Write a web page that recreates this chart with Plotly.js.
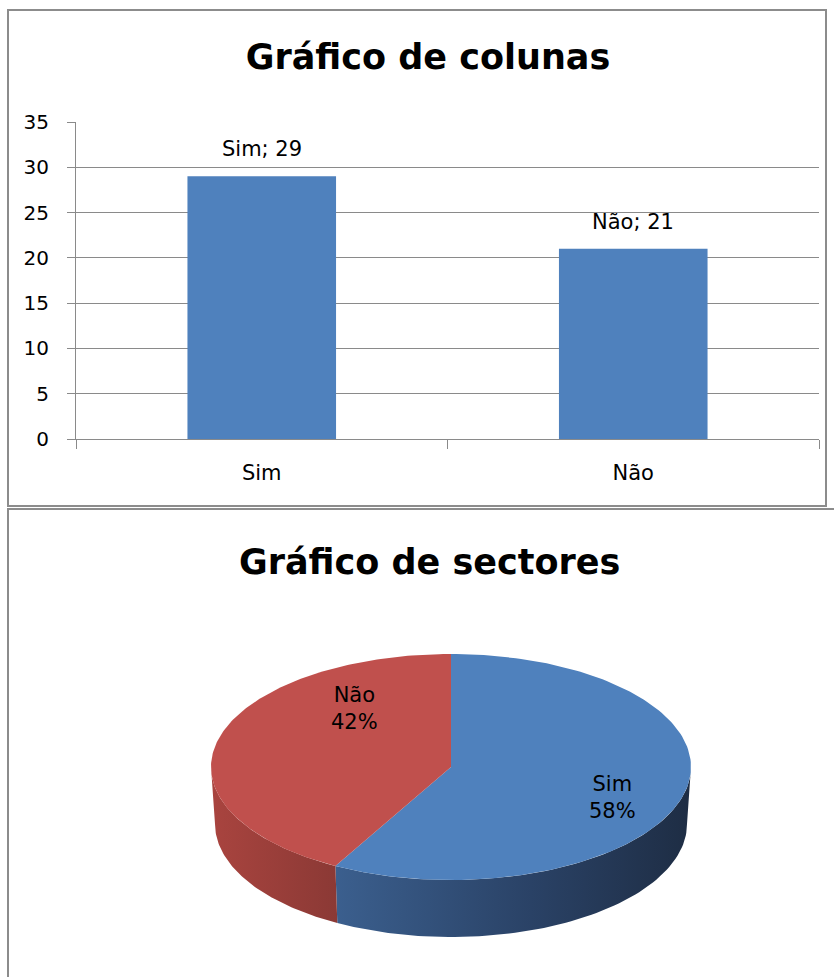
<!DOCTYPE html>
<html>
<head>
<meta charset="utf-8">
<script src="https://cdn.plot.ly/plotly-3.0.1.min.js"></script>
<style>
html,body{margin:0;padding:0;background:#fff;}
#chart{width:834px;height:977px;}
</style>
</head>
<body>
<div id="chart"></div>
<script>
// ---- data ----
const categories = ['Sim', 'Não'];
const counts = [29, 21];
const yTickVals = [0, 5, 10, 15, 20, 25, 30, 35];
const barTitle = 'Gráfico de colunas';
const pieTitle = 'Gráfico de sectores';

// ---- styles ----
const W = 834, H = 977;
const FONT = '"DejaVu Sans", sans-serif';
const BLUE = '#4F81BD', RED = '#C0504D';
const GRID = '#8a8a8a';
const px = v => v / W;
const py = v => 1 - v / H;

// pie geometry (pixel-like units on hidden axes)
const PIE = {cx: 451, cy: 767, rx: 240, ry: 113, rxb: 236, depth: 57};
const sliceColors = [BLUE, RED];
const sideGradients = [
  [[0, '#3b5f8e'], [0.55, '#2a4266'], [1, '#1e2d44']],
  [[0, '#a9443f'], [1, '#8b3935']]
];

const total = counts.reduce((a, b) => a + b, 0);
const fractions = counts.map(c => c / total);

function deg(a){ return a * Math.PI / 180; }
function arc(a0, a1, n, cx, cy, rx, ry){
  const xs = [], ys = [];
  for (let i = 0; i <= n; i++){
    const a = deg(a0 + (a1 - a0) * i / n);
    xs.push(cx + rx * Math.cos(a));
    ys.push(cy - ry * Math.sin(a));
  }
  return {xs, ys};
}

const traces = [];

// bar chart
traces.push({
  type: 'bar', x: categories, y: counts,
  marker: {color: BLUE, line: {width: 0}},
  xaxis: 'x', yaxis: 'y', hoverinfo: 'x+y', showlegend: false
});

// pie slices: first slice starts at 12 o'clock, clockwise
let start = 90;
const slices = fractions.map((f, i) => {
  const a0 = start, a1 = start - f * 360;
  start = a1;
  return {a0, a1, i};
});

// side walls (front visible half: angles between -180 and 0)
slices.forEach(s => {
  const hi = s.a0, lo = s.a1;
  const segs = [];
  for (const off of [0, -360, 360]){
    const h = Math.min(hi + off, 0), l = Math.max(lo + off, -180);
    if (h > l) segs.push([l, h]);
  }
  segs.forEach(([l, h]) => {
    const top = arc(l, h, 80, PIE.cx, PIE.cy, PIE.rx, PIE.ry);
    const bot = arc(h, l, 80, PIE.cx, PIE.cy + PIE.depth, PIE.rxb, PIE.ry);
    traces.push({
      type: 'scatter', mode: 'lines', fill: 'toself',
      x: top.xs.concat(bot.xs), y: top.ys.concat(bot.ys),
      line: {width: 0, color: sliceColors[s.i]},
      fillcolor: sliceColors[s.i],
      fillgradient: {type: 'horizontal', colorscale: sideGradients[s.i]},
      xaxis: 'x2', yaxis: 'y2', hoverinfo: 'skip', showlegend: false
    });
  });
});

// top faces
slices.forEach(s => {
  const a = arc(s.a0, s.a1, 160, PIE.cx, PIE.cy, PIE.rx, PIE.ry);
  traces.push({
    type: 'scatter', mode: 'lines', fill: 'toself',
    x: [PIE.cx].concat(a.xs, [PIE.cx]), y: [PIE.cy].concat(a.ys, [PIE.cy]),
    line: {width: 0, color: sliceColors[s.i]},
    fillcolor: sliceColors[s.i],
    name: categories[s.i],
    text: categories[s.i] + ' ' + Math.round(fractions[s.i] * 100) + '%',
    hoverinfo: 'text', hoveron: 'fills',
    xaxis: 'x2', yaxis: 'y2', showlegend: false
  });
});

// annotations
const annotations = [];
categories.forEach((c, i) => {
  annotations.push({
    x: c, y: counts[i], xref: 'x', yref: 'y',
    text: c + '; ' + counts[i], showarrow: false,
    yanchor: 'bottom', yshift: 13,
    font: {family: FONT, size: 21, color: '#000'}
  });
});
const pieLabelPos = [[612, 797], [354, 708]];
categories.forEach((c, i) => {
  annotations.push({
    x: pieLabelPos[i][0], y: pieLabelPos[i][1], xref: 'x2', yref: 'y2',
    text: c + '<br>' + Math.round(fractions[i] * 100) + '%', showarrow: false,
    font: {family: FONT, size: 21, color: '#000'}
  });
});
annotations.push({
  x: px(429), y: py(562), xref: 'paper', yref: 'paper',
  text: '<b>' + pieTitle + '</b>', showarrow: false,
  xanchor: 'center', yanchor: 'middle',
  font: {family: FONT, size: 35, color: '#000'}
});

const layout = {
  width: W, height: H,
  margin: {l: 0, r: 0, t: 0, b: 0},
  paper_bgcolor: '#fff', plot_bgcolor: 'rgba(0,0,0,0)',
  font: {family: FONT, size: 20, color: '#000'},
  showlegend: false,
  title: {
    text: '<b>' + barTitle + '</b>',
    x: px(428), y: py(57), xref: 'paper', yref: 'paper',
    xanchor: 'center', yanchor: 'middle',
    font: {family: FONT, size: 35, color: '#000'}
  },
  bargap: 0.6,
  xaxis: {
    domain: [px(76), px(819)], anchor: 'y',
    type: 'category', showgrid: false, zeroline: false,
    showline: true, linecolor: GRID, linewidth: 1,
    ticks: 'outside', tickson: 'boundaries', ticklen: 9, tickcolor: GRID,
    ticklabelstandoff: 15,
    tickfont: {family: FONT, size: 21, color: '#000'}, fixedrange: true
  },
  yaxis: {
    domain: [py(439), py(122)], anchor: 'x',
    range: [0, 35], tickvals: yTickVals, ticktext: yTickVals.map(String),
    showgrid: true, gridcolor: GRID, gridwidth: 1, zeroline: false,
    showline: true, linecolor: GRID, linewidth: 1,
    ticks: 'outside', ticklen: 8, tickcolor: GRID,
    ticklabelstandoff: 14,
    tickfont: {family: FONT, size: 20, color: '#000'}, fixedrange: true
  },
  xaxis2: {
    domain: [0, 1], anchor: 'y2', range: [0, W],
    visible: false, fixedrange: true
  },
  yaxis2: {
    domain: [0, py(508)], anchor: 'x2', range: [H, 508],
    visible: false, fixedrange: true
  },
  shapes: [
    {type: 'rect', xref: 'paper', yref: 'paper',
     x0: px(8), x1: px(826), y0: py(506), y1: py(10),
     line: {color: '#8c8c8c', width: 2}, layer: 'below'},
    {type: 'rect', xref: 'paper', yref: 'paper',
     x0: px(8), x1: px(850), y0: py(1000), y1: py(509),
     line: {color: '#8c8c8c', width: 2}, layer: 'below'}
  ],
  annotations: annotations
};

Plotly.newPlot('chart', traces, layout, {displayModeBar: false, staticPlot: true});
</script>
</body>
</html>
